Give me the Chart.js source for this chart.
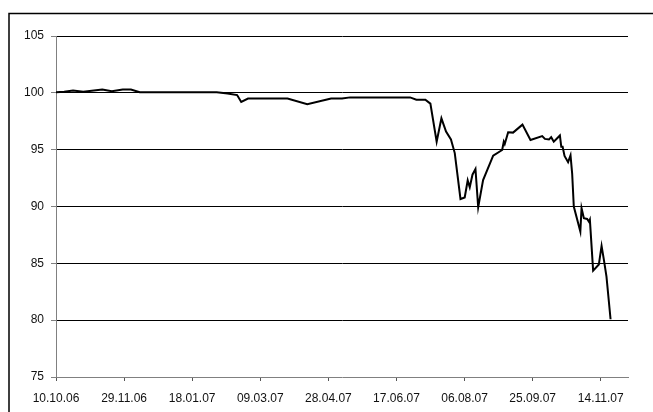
<!DOCTYPE html>
<html>
<head>
<meta charset="utf-8">
<script src="https://cdn.jsdelivr.net/npm/chart.js@4/dist/chart.umd.min.js"></script>
<style>
html,body{margin:0;padding:0;background:#fff;overflow:hidden;}
#wrap{position:relative;width:653px;height:412px;}
</style>
</head>
<body>
<div id="wrap"><canvas id="c" width="653" height="412"></canvas></div>
<script>
// Days since 10.10.06
const daysSinceStart = [0,6,12.5,20,34,41,49,55,61.5,118,126,133,136,141,170,184.5,202,210,216,260,264.6,271.2,274.9,279.5,283,286.4,290,292.8,297,300.1,302.3,303.8,305.8,308,310,313.6,321,327.6,328.8,329.5,332,335.6,342.5,348.4,357,359,362,363.6,365.5,368,370,371,372,373.4,376,377.8,379,380.2,385,385.9,387.6,390,391.3,392,394.4,398.6,400.6,402.3,404.2,407.2];
const indexValues = [100.05,100.1,100.2,100.1,100.3,100.15,100.3,100.3,100.05,100.05,99.95,99.8,99.2,99.5,99.5,99.0,99.5,99.5,99.6,99.6,99.4,99.4,99.05,95.7,97.76,96.6,95.9,94.7,90.66,90.8,92.3,91.7,92.8,93.3,89.93,92.33,94.47,94.97,95.7,95.5,96.53,96.5,97.2,95.85,96.2,95.95,95.9,96.1,95.7,96.0,96.25,95.26,95.26,94.45,93.9,94.5,92.9,90.0,87.8,89.85,88.97,88.9,88.67,88.85,84.36,84.9,86.53,85.3,83.83,80.08];
const tickDays = [0,50,100,150,200,250,300,350,400];
const tickLabels = ['10.10.06','29.11.06','18.01.07','09.03.07','28.04.07','17.06.07','06.08.07','25.09.07','14.11.07'];
const yTicks = [75,80,85,90,95,100,105];

const points = daysSinceStart.map((d,i)=>({x:d,y:indexValues[i]}));

const framePlugin = {
  id:'frame',
  beforeDraw(chart){
    const ctx = chart.ctx;
    ctx.save();
    ctx.fillStyle='#fff';
    ctx.fillRect(0,0,chart.width,chart.height);
    ctx.strokeStyle='#000';
    ctx.lineWidth=1.5;
    ctx.beginPath();
    ctx.moveTo(9,412);
    ctx.lineTo(9,13.5);
    ctx.lineTo(653,13.5);
    ctx.stroke();
    ctx.restore();
  }
};

new Chart(document.getElementById('c'),{
  type:'line',
  data:{datasets:[{data:points,borderColor:'#000',borderWidth:2,pointRadius:0,tension:0,fill:false}]},
  options:{
    responsive:false,
    devicePixelRatio:1,
    animation:false,
    layout:{padding:{top:36,right:25,left:0,bottom:0}},
    plugins:{legend:{display:false},tooltip:{enabled:false}},
    scales:{
      x:{
        type:'linear',min:0,max:420,
        afterBuildTicks(s){ s.ticks = tickDays.map(v=>({value:v})); },
        afterFit(s){ s.height = 35; },
        grid:{drawOnChartArea:false,drawTicks:true,tickLength:4,tickColor:'#555'},
        border:{color:'#808080',width:1},
        ticks:{
          autoSkip:false,maxRotation:0,minRotation:0,padding:10,color:'#111',
          font:{family:'"Liberation Sans", Arial, sans-serif',size:12},
          callback(v){ const i = tickDays.indexOf(v); return i>=0 ? tickLabels[i] : ''; }
        }
      },
      y:{
        min:75,max:105,
        afterBuildTicks(s){ s.ticks = yTicks.map(v=>({value:v})); },
        afterFit(s){ s.width = 56; },
        grid:{
          color(ctx){ return ctx.tick && ctx.tick.value===75 ? 'rgba(0,0,0,0)' : '#000'; },
          lineWidth:1,drawTicks:true,tickLength:5,tickColor:'#808080'
        },
        border:{color:'#808080',width:1},
        ticks:{padding:7,color:'#111',font:{family:'"Liberation Sans", Arial, sans-serif',size:12}}
      }
    }
  },
  plugins:[framePlugin]
});
</script>
</body>
</html>
